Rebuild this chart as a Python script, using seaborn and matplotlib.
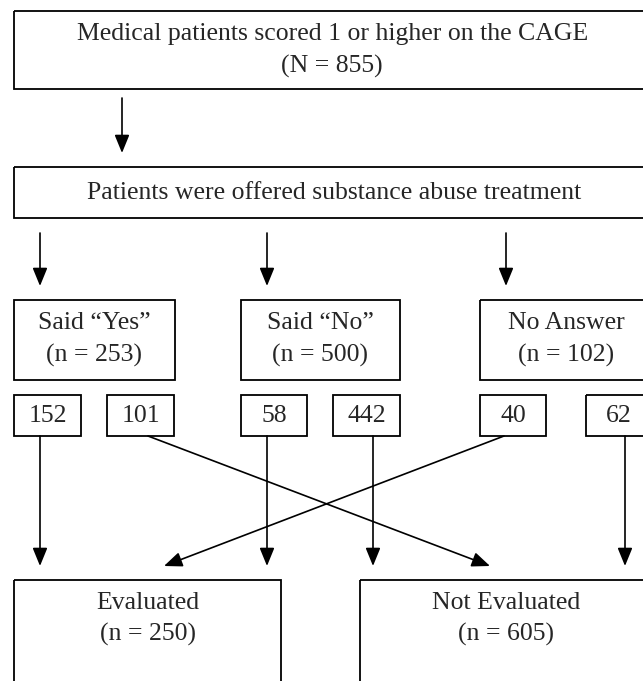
import matplotlib
matplotlib.use("Agg")
import matplotlib.pyplot as plt
import seaborn as sns
from matplotlib.patches import Rectangle

# chart values
total_n = 855
responses = ["Said \u201cYes\u201d", "Said \u201cNo\u201d", "No Answer"]
response_n = [253, 500, 102]
to_evaluated = [152, 58, 40]
to_not_evaluated = [101, 442, 62]
outcomes = ["Evaluated", "Not Evaluated"]
outcome_n = [250, 605]

# layout in pixel coordinates (y grows downward)
resp_boxes = [(14, 175), (241, 400), (480, 652)]
small_eval_boxes = [(14, 81), (241, 307), (480, 546)]
small_not_boxes = [(107, 174), (333, 400), (586, 652)]
outcome_boxes = [(14, 281), (360, 660)]

sns.set_theme(style="white")
plt.rcParams['font.family'] = ['Liberation Serif', 'DejaVu Serif']

fig = plt.figure(figsize=(6.43, 6.81), dpi=100)
ax = fig.add_axes([0, 0, 1, 1])
ax.set_xlim(0, 643)
ax.set_ylim(681, 0)
ax.axis('off')

FS = 18.5
LW = 1.3


def box(x0, x1, y0, y1):
    ax.add_patch(Rectangle((x0, y0), x1 - x0, y1 - y0, fill=False,
                           edgecolor='black', linewidth=LW))


def arrow(x0, y0, x1, y1):
    ax.annotate('', xy=(x1, y1), xytext=(x0, y0),
                arrowprops=dict(arrowstyle='-|>,head_length=1.1,head_width=0.45',
                                color='black', lw=1.2, shrinkA=0, shrinkB=0,
                                mutation_scale=10))


# top box
box(14, 665, 11, 89)
ax.text(333, 34, "Medical patients scored 1 or higher on the CAGE",
        ha='center', va='center', fontsize=FS)
ax.text(332, 66, f"(N = {total_n})", ha='center', va='center', fontsize=FS)
arrow(122, 98, 122, 153)

# offer box
box(14, 665, 167, 218)
ax.text(334, 193, "Patients were offered substance abuse treatment",
        ha='center', va='center', fontsize=FS)

# responses
arrow_x = [40, 267, 506]
for (x0, x1), label, n, ax_x in zip(resp_boxes, responses, response_n, arrow_x):
    arrow(ax_x, 233, ax_x, 286)
    box(x0, x1, 300, 380)
    cx = (x0 + x1) / 2
    ax.text(cx, 323, label, ha='center', va='center', fontsize=FS)
    ax.text(cx, 355, f"(n = {n})", ha='center', va='center', fontsize=FS)

# split boxes
for (x0, x1), v in zip(small_eval_boxes, to_evaluated):
    box(x0, x1, 395, 436)
    ax.text((x0 + x1) / 2, 416, str(v), ha='center', va='center', fontsize=FS)
for (x0, x1), v in zip(small_not_boxes, to_not_evaluated):
    box(x0, x1, 395, 436)
    ax.text((x0 + x1) / 2, 416, str(v), ha='center', va='center', fontsize=FS)

# arrows to outcomes
arrow(40, 436, 40, 566)
arrow(267, 436, 267, 566)
arrow(373, 436, 373, 566)
arrow(625, 436, 625, 566)
arrow(148, 436, 490, 566)
arrow(504, 436, 164, 566)

# outcomes
for (x0, x1), label, n, cx in zip(outcome_boxes, outcomes, outcome_n, [148, 506]):
    box(x0, x1, 580, 700)
    ax.text(cx, 603, label, ha='center', va='center', fontsize=FS)
    ax.text(cx, 634, f"(n = {n})", ha='center', va='center', fontsize=FS)

fig.savefig("out.png", dpi=100)
